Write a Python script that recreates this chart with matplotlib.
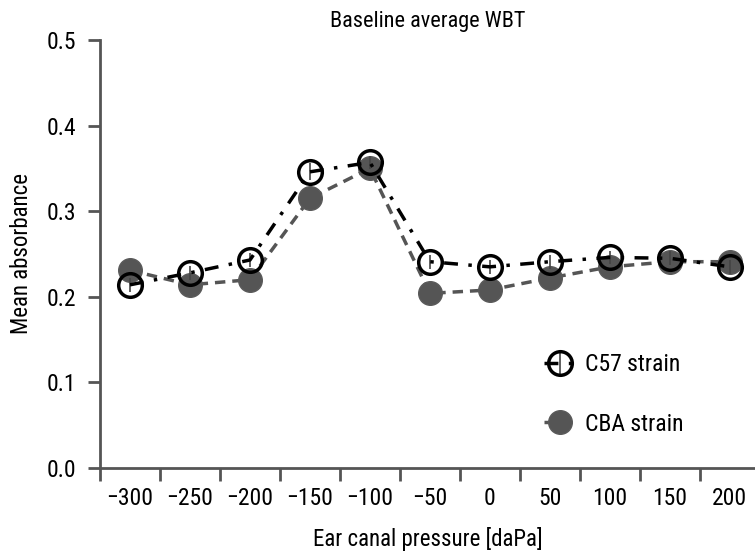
import numpy as np
import matplotlib
matplotlib.use("Agg")
import matplotlib.pyplot as plt

plt.rcParams['font.family'] = ['Roboto Condensed', 'Liberation Sans Narrow', 'Lato', 'DejaVu Sans']

# ear canal pressure categories (daPa)
pressure = ['\u2212300', '\u2212250', '\u2212200', '\u2212150', '\u2212100', '\u221250',
            '0', '50', '100', '150', '200']
c57 = [0.214, 0.228, 0.243, 0.346, 0.357, 0.241, 0.235, 0.241, 0.246, 0.245, 0.235]
cba = [0.231, 0.214, 0.220, 0.315, 0.350, 0.204, 0.208, 0.222, 0.235, 0.241, 0.241]
c57_err = [0.008, 0.008, 0.008, 0.010, 0.008, 0.008, 0.008, 0.008, 0.008, 0.008, 0.008]
cba_err = [0.010, 0.012, 0.012, 0.012, 0.010, 0.012, 0.010, 0.010, 0.010, 0.008, 0.008]

x = np.arange(len(pressure))

fig = plt.figure(figsize=(7.55, 5.53), dpi=100)
ax = fig.add_axes([100/755, 85/553, 655/755, 428/553])

grey = '#555555'
ax.errorbar(x, cba, yerr=cba_err, color=grey, ecolor='#999999', elinewidth=1.2,
            linestyle=(0, (3, 2)), linewidth=2.5, marker='o', markersize=17,
            markerfacecolor=grey, markeredgecolor='#5a5a5a', label='CBA strain', zorder=2)
ax.errorbar(x, c57, yerr=c57_err, color='black', ecolor='#444444', elinewidth=1.2,
            linestyle=(0, (4, 3, 1, 3)), linewidth=2.5, marker='o', markersize=17,
            markerfacecolor='none', markeredgecolor='black', markeredgewidth=2.5,
            label='C57 strain', zorder=3)

ax.set_xlim(-0.5, 10.42)
ax.set_ylim(0, 0.5)
ax.set_yticks([0.0, 0.1, 0.2, 0.3, 0.4, 0.5])
ax.set_yticklabels(['0.0', '0.1', '0.2', '0.3', '0.4', '0.5'])
ax.set_xticks(x)
ax.set_xticklabels(pressure)
ax.set_xticks(x - 0.5, minor=True)

for s in ['top', 'right']:
    ax.spines[s].set_visible(False)
for s in ['left', 'bottom']:
    ax.spines[s].set_color('#555555')
    ax.spines[s].set_linewidth(2)

ax.tick_params(axis='x', which='major', length=0, pad=14, labelsize=17)
ax.tick_params(axis='x', which='minor', length=9, width=2, color='#555555')
ax.tick_params(axis='y', length=9, width=2, color='#555555', pad=8, labelsize=17)

ax.set_title('Baseline average WBT', fontsize=16, pad=9)
ax.set_xlabel('Ear canal pressure [daPa]', fontsize=16.5, labelpad=12)
ax.set_ylabel('Mean absorbance', fontsize=16.5, labelpad=10)

h, l = ax.get_legend_handles_labels()
ax.legend(h[::-1], l[::-1], loc='lower left', bbox_to_anchor=(0.645, 0.026),
          frameon=False, fontsize=17, handlelength=1.4, labelspacing=1.55,
          handletextpad=0.35)

fig.savefig('out.png', dpi=100)
